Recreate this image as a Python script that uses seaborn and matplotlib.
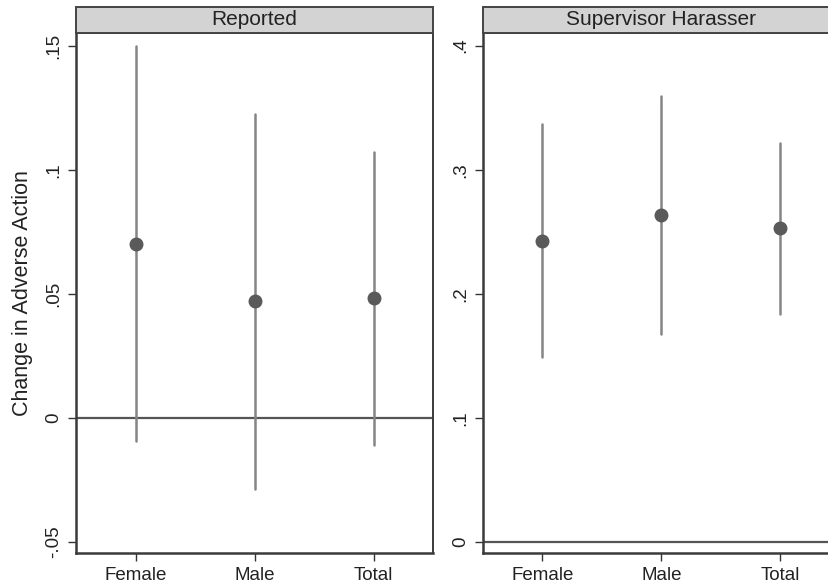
import numpy as np
import pandas as pd
import seaborn as sns
import matplotlib
matplotlib.use("Agg")
import matplotlib.pyplot as plt
from matplotlib.patches import Rectangle

# ---- data ----
categories = ["Female", "Male", "Total"]
panels = ["Reported", "Supervisor Harasser"]

reported_est = [0.0704, 0.0472, 0.0484]
reported_lo = [-0.0093, -0.0285, -0.0108]
reported_hi = [0.1500, 0.1228, 0.1075]

supervisor_est = [0.2429, 0.2638, 0.2528]
supervisor_lo = [0.1492, 0.1680, 0.1838]
supervisor_hi = [0.3371, 0.3593, 0.3218]

reported_yticks = [-0.05, 0.0, 0.05, 0.10, 0.15]
reported_yticklabels = ["-.05", "0", ".05", ".1", ".15"]
supervisor_yticks = [0.0, 0.1, 0.2, 0.3, 0.4]
supervisor_yticklabels = ["0", ".1", ".2", ".3", ".4"]

y_label = "Change in Adverse Action"


def long_frame(est, lo, hi):
    rows = []
    for c, e, l, h in zip(categories, est, lo, hi):
        for v in (l, e, h):
            rows.append({"group": c, "value": v})
    return pd.DataFrame(rows)


frames = [long_frame(reported_est, reported_lo, reported_hi),
          long_frame(supervisor_est, supervisor_lo, supervisor_hi)]
yticks = [reported_yticks, supervisor_yticks]
yticklabels = [reported_yticklabels, supervisor_yticklabels]
ylims = [(-0.0544, 0.1554), (-0.0089, 0.4102)]

sns.set_theme(style="white")
plt.rcParams["font.family"] = ["Liberation Sans", "DejaVu Sans"]

W, H = 829, 588
fig = plt.figure(figsize=(W / 100, H / 100), dpi=100)
fig.patch.set_facecolor("white")

ax_w = (433 - 76) / W
ax_b = (H - 553) / H
ax_h = (553 - 33) / H
lefts = [76 / W, 483 / W]

spine_col = "#3a3a3a"
for i in range(2):
    ax = fig.add_axes([lefts[i], ax_b, ax_w, ax_h])
    ax.axhline(0, color="#555555", linewidth=1.6, zorder=1)
    sns.pointplot(data=frames[i], x="group", y="value", order=categories,
                  estimator="median", errorbar=("pi", 100),
                  linestyle="none", color="#5a5a5a", markersize=8,
                  err_kws={"color": "#858585", "linewidth": 1.8, "zorder": 2},
                  zorder=3, ax=ax)
    ax.set_xlim(-0.5, 2.5)
    ax.set_ylim(*ylims[i])
    ax.set_yticks(yticks[i])
    ax.set_yticklabels(yticklabels[i], rotation=90, va="center")
    ax.set_xlabel("")
    if i == 0:
        ax.set_ylabel(y_label, fontsize=15.5, color="#222222", labelpad=9)
    else:
        ax.set_ylabel("")
    ax.tick_params(axis="both", which="both", direction="out", length=6,
                   width=1.0, color="#333333", labelsize=13.5, labelcolor="#222222",
                   pad=4, left=True, bottom=True)
    for s in ax.spines.values():
        s.set_visible(True)
        s.set_color(spine_col)
        s.set_linewidth(1.4)
    ax.spines["left"].set_linewidth(1.8)
    ax.spines["bottom"].set_linewidth(1.8)
    if i == 1:
        # the right panel runs past the figure edge in the reference
        ax.spines["right"].set_visible(False)
    ax.grid(False)
    # strip header
    strip_h = (33 - 6.7) / (553 - 33)
    strip_w = 1.0 if i == 0 else 1.1
    rect = Rectangle((0, 1), strip_w, strip_h, transform=ax.transAxes,
                     facecolor="#d3d3d3", edgecolor="#444444", linewidth=1.4,
                     clip_on=False, zorder=5)
    ax.add_patch(rect)
    ax.text(0.5, 1 + strip_h / 2, panels[i], transform=ax.transAxes,
            ha="center", va="center", fontsize=15, color="#222222", zorder=6)

fig.savefig("out.png", dpi=100, facecolor="white")
